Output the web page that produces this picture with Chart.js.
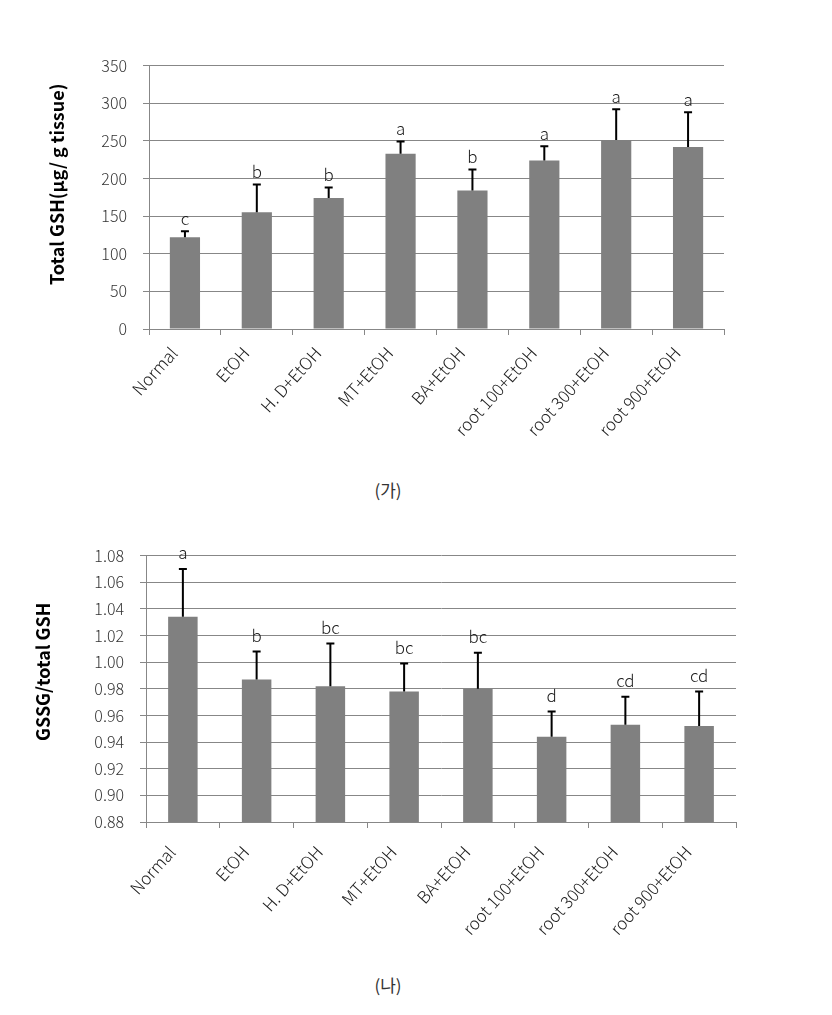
<!DOCTYPE html>
<html>
<head>
<meta charset="utf-8">
<script src="https://cdn.jsdelivr.net/npm/chart.js@4"></script>
<style>
body{margin:0;background:#fff;width:832px;height:1015px;position:relative;overflow:hidden;}
.box{position:absolute;left:0;width:832px;}
.cap{position:absolute;width:80px;text-align:center;font-family:"Noto Sans CJK KR";font-size:17px;color:#333;}
</style>
</head>
<body>
<div class="box" style="top:40px;height:420px"><canvas id="c1" width="832" height="420"></canvas></div>
<div class="cap" style="left:348px;top:477px">(가)</div>
<div class="box" style="top:530px;height:440px"><canvas id="c2" width="832" height="440"></canvas></div>
<div class="cap" style="left:348px;top:972px">(나)</div>
<script>
const groups=["Normal","EtOH","H. D+EtOH","MT+EtOH","BA+EtOH","root 100+EtOH","root 300+EtOH","root 900+EtOH"];

const gshMean=[122,155,174,233,184,224,251,242];
const gshSD=[8,37,14,16,28,19,41,46];
const gshLetters=["c","b","b","a","b","a","a","a"];

const ratioMean=[1.034,0.987,0.982,0.978,0.980,0.944,0.953,0.952];
const ratioSD=[0.036,0.021,0.032,0.021,0.027,0.019,0.021,0.026];
const ratioLetters=["a","b","bc","bc","bc","d","cd","cd"];

const font="'Noto Sans CJK KR','Open Sans',sans-serif";
const grey="#878787";

// error bars (upper only), significance letters, y title
const errPlugin={
 id:"err",
 afterDatasetsDraw(chart){
  const o=chart.options.plugins.err;
  const ctx=chart.ctx,y=chart.scales.y;
  const meta=chart.getDatasetMeta(0);
  ctx.save();
  meta.data.forEach((bar,i)=>{
   const top=y.getPixelForValue(o.mean[i]+o.sd[i]);
   ctx.strokeStyle="#000";ctx.lineWidth=2;
   ctx.beginPath();
   ctx.moveTo(bar.x,bar.y);ctx.lineTo(bar.x,top);
   ctx.moveTo(bar.x-4,top);ctx.lineTo(bar.x+4,top);
   ctx.stroke();
   ctx.fillStyle="#222";ctx.font="300 17px "+font;
   ctx.textAlign="center";ctx.textBaseline="middle";
   ctx.fillText(o.letters[i],bar.x,top-o.gap);
  });
  const a=chart.chartArea;
  ctx.translate(o.titleX,(a.top+a.bottom)/2+o.titleShift);
  ctx.rotate(-Math.PI/2);
  ctx.fillStyle="#000";ctx.font="bold 18px "+font;
  ctx.fillText(o.title,0,0);
  ctx.restore();
 }
};

function makeChart(id,mean,sd,letters,opt){
 return new Chart(document.getElementById(id),{
  type:"bar",
  data:{labels:groups,datasets:[{data:mean,backgroundColor:"#808080",barPercentage:opt.bar,categoryPercentage:1}]},
  options:{
   responsive:false,animation:false,
   layout:{padding:{left:opt.padLeft,right:opt.padRight,top:opt.padTop,bottom:0}},
   plugins:{legend:{display:false},tooltip:{enabled:false},
    err:{mean:mean,sd:sd,letters:letters,gap:opt.gap,title:opt.title,titleX:opt.titleX,titleShift:opt.titleShift}},
   scales:{
    x:{
     grid:{offset:true,drawOnChartArea:false,drawTicks:true,tickLength:6,color:grey},
     border:{color:grey},
     ticks:{color:"#222",font:{family:font,size:17,weight:300},minRotation:48,maxRotation:48,
      padding:opt.xPad,labelOffset:-11},
     afterFit(s){s.height=opt.xHeight;}
    },
    y:{
     min:opt.min,max:opt.max,
     ticks:{stepSize:opt.step,color:"#333",font:{family:font,size:16,weight:300},padding:opt.tickPad,
      callback:v=>v.toFixed(opt.dec)},
     grid:{color:grey,tickLength:6},
     border:{color:grey},
     afterFit(s){s.width=opt.yWidth;}
    }
   }
  },
  plugins:[errPlugin]
 });
}

makeChart("c1",gshMean,gshSD,gshLetters,{
 title:"Total GSH(μg/ g tissue)",min:0,max:350,step:50,dec:0,titleX:57,titleShift:-13,
 padLeft:46,padRight:108,padTop:23,yWidth:103,xHeight:131,xPad:8,tickPad:16,bar:0.42,gap:13
});
makeChart("c2",ratioMean,ratioSD,ratioLetters,{
 title:"GSSG/total GSH",min:0.88,max:1.08,step:0.02,dec:2,titleX:43,titleShift:-17,
 padLeft:32,padRight:96,padTop:15,yWidth:114,xHeight:148,xPad:14,tickPad:16,bar:0.4,gap:16
});
</script>
</body>
</html>
